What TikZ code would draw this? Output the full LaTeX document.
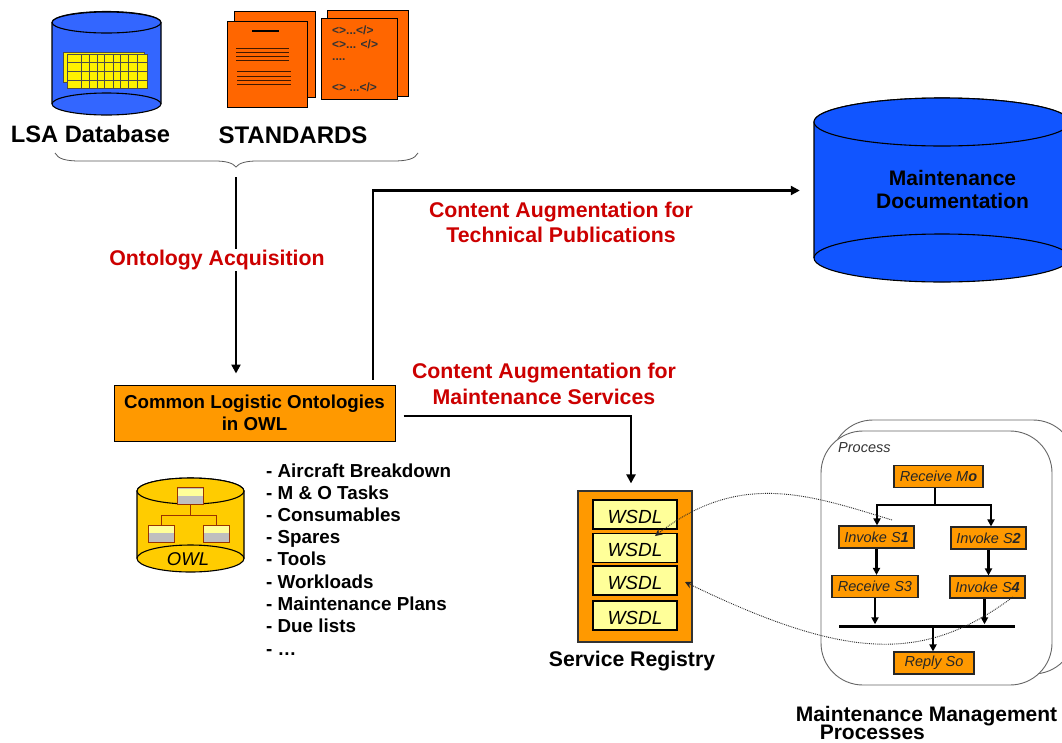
\documentclass[tikz,border=0pt]{standalone}
\usepackage{fontspec}
\setmainfont{Liberation Sans}
\usetikzlibrary{arrows.meta,calc}
\definecolor{dbblue}{HTML}{3366FF}
\definecolor{docblue}{HTML}{1155FF}
\definecolor{docorange}{HTML}{FF6600}
\definecolor{amber}{HTML}{FF9900}
\definecolor{gold}{HTML}{FFCC00}
\definecolor{pale}{HTML}{FFFF99}
\definecolor{lblred}{HTML}{CC0000}
\definecolor{treered}{HTML}{993300}
\newcommand{\fs}[1]{\fontsize{#1}{#1}\selectfont}
\tikzset{
  x=1pt,y=-1pt,
  outline/.style={draw=black,line width=1.1pt},
  arrowline/.style={draw=black,line width=2.3pt,-{Triangle[length=9pt,width=9pt]}},
  flowline/.style={draw=black,line width=2.2pt,-{Triangle[length=7pt,width=7pt]}},
  dotline/.style={draw=black!85,line width=.9pt,densely dotted,-{Stealth[length=7pt,width=7pt]}},
  redlabel/.style={text=lblred,font=\fs{21.3}\bfseries,align=center,inner sep=1pt,fill=white},
  blacklabel/.style={text=black,font=\fs{21}\bfseries,align=center,inner sep=0pt},
  docpage/.style={draw=black,line width=1pt,fill=docorange,minimum width=#1,inner sep=0pt},
  docline/.style={draw=black!75!docorange,line width=.9pt},
  xmltext/.style={font=\fs{12}\bfseries,anchor=west,inner sep=0pt,text=black!80},
  wsdlbox/.style={draw=black,line width=1.1pt,fill=pale,minimum width=84pt,inner sep=0pt,font=\fs{19}\itshape,text height=17pt,text depth=0pt},
  stepbox/.style={draw=black!85,line width=1.1pt,fill=amber,inner sep=0pt,font=\fs{14.5}\itshape,text=black!85},
  procback/.style={draw=black!60,line width=.9pt,fill=white,rounded corners=42pt},
  treebox/.style={draw=treered,line width=1pt,fill=black!25,minimum width=26pt,minimum height=17pt,inner sep=0pt},
  treetop/.style={fill=pale,minimum width=25pt,minimum height=7pt,inner sep=0pt},
  treeline/.style={draw=treered,line width=1pt},
  gridsheet/.style={draw=black!70,line width=.6pt,fill=yellow},
  bulletitem/.style={font=\fs{18.8}\bfseries,anchor=base west,inner sep=0pt},
}
\begin{document}
\begin{tikzpicture}
\clip (0,0) rectangle (1062,742);
\fill[white] (0,0) rectangle (1062,742);

% LSA database cylinder
\path[outline,fill=dbblue] (52,22.5) -- (52,104) arc[start angle=180,end angle=360,x radius=54.5,y radius=-11] -- (161,22.5) arc[start angle=0,end angle=180,x radius=54.5,y radius=-11] -- cycle;
\path[outline,fill=dbblue] (106.5,22.5) ellipse[x radius=54.5,y radius=10.5];
\draw[outline] (52,104) arc[start angle=180,end angle=0,x radius=54.5,y radius=-11];
\draw[gridsheet] (63.5,52) rectangle (144,82);
\draw[gridsheet] (67,54) rectangle (147,88);
\foreach \gx in {81,89,97,104,113,120,128,137} \draw[black!70,line width=.6pt] (\gx,54) -- (\gx,88);
\foreach \gy in {62,71,80} \draw[black!70,line width=.6pt] (67,\gy) -- (147,\gy);
\node[blacklabel,font=\fs{23.7}\bfseries] (lsa) at (90.5,134) {LSA Database};

% Standards
\node[docpage=81pt,minimum height=86pt] (d1b) at (274.5,54) {};
\node[docpage=80pt,minimum height=86pt] (d1f) at (267,64) {};
\draw[black,line width=2.2pt] (252,31) -- (279,31);
\foreach \ly in {48,52,56,60} \draw[docline] (236,\ly) -- (289,\ly);
\foreach \ly in {71,76,80,84} \draw[docline] (237,\ly) -- (291,\ly);
\node[docpage=81pt,minimum height=86pt] (d2b) at (367.5,53) {};
\node[docpage=75.5pt,minimum height=81pt] (d2f) at (359.25,58.5) {};
\node[xmltext] (x1) at (332,30.5) {<>...</>};
\node[xmltext] (x2) at (332,44.5) {<>... </>};
\node[xmltext] (x3) at (332,60) {....};
\node[xmltext] (x4) at (332,87) {<> ...</>};
\node[blacklabel,font=\fs{24}\bfseries] (std) at (293,135) {STANDARDS};

% Brace
\draw[draw=black!65,line width=.8pt] (55,153) .. controls (58,159) and (66,161) .. (80,161) -- (215,161) .. controls (226,161) and (233,163) .. (236,167) .. controls (239,163) and (246,161) .. (257,161) -- (393,161) .. controls (407,161) and (415,159) .. (418,153);
\coordinate (bracetip) at (236,177);

% Common ontologies
\node[draw=black,line width=1pt,fill=amber,minimum width=281pt,minimum height=56pt,inner sep=0pt,align=center,font=\fs{18.7}\bfseries] (col) at (254.5,413) {Common Logistic Ontologies\\[3pt]in OWL};

\draw[arrowline] (bracetip) -- ([yshift=11pt]bracetip |- col.north);
\node[redlabel] (acq) at (217,260) {Ontology Acquisition};

% Maintenance documentation cylinder
\path[outline,fill=docblue] (814,122) -- (814,258) arc[start angle=180,end angle=360,x radius=128,y radius=-24] -- (1070,122) arc[start angle=0,end angle=180,x radius=128,y radius=-24] -- cycle;
\path[outline,fill=docblue] (942,122) ellipse[x radius=128,y radius=24];
\draw[outline] (814,258) arc[start angle=180,end angle=0,x radius=128,y radius=-24];
\node[inner sep=0pt,minimum width=256pt,minimum height=184pt] (maint) at (942,190.5) {};
\node[blacklabel,font=\fs{21}\bfseries] (maintlbl) at (952.5,189) {Maintenance\\[2pt]Documentation};

\coordinate (colup) at ($(col.north)+(118.5,-5)$);
\coordinate (colright) at ($(col.east)+(8,3)$);
\draw[arrowline] (colup) |- ([xshift=-14pt]maint.west);
\node[redlabel,fill=none] (techlbl) at (561,222.5) {Content Augmentation for\\[3.5pt]Technical Publications};
\node[redlabel,fill=none] (svclbl) at (544,384) {Content Augmentation for\\[4pt]Maintenance Services};

% OWL cylinder
\path[outline,fill=gold] (137,491) -- (137,558.5) arc[start angle=180,end angle=360,x radius=53.5,y radius=-13.5] -- (244,491) arc[start angle=0,end angle=180,x radius=53.5,y radius=-13] -- cycle;
\path[outline,fill=gold] (190.5,491) ellipse[x radius=53.5,y radius=13];
\draw[outline] (137,558.5) arc[start angle=180,end angle=0,x radius=53.5,y radius=-13.5];
\node[treebox] (t0) at (190,496) {};
\node[treebox] (t1) at (161,533.5) {};
\node[treebox] (t2) at (216,533.5) {};
\node[treetop] at (190,492) {};
\node[treetop] at (161,529.5) {};
\node[treetop] at (216,529.5) {};
\draw[treeline] (t0.south) -- ++(0,10) coordinate (tj) -| (t1.north);
\draw[treeline] (tj) -| (t2.north);
\node[font=\fs{18.5}\itshape,inner sep=0pt] (owl) at (188,559) {OWL};

% Bullet list
\node[bulletitem] (b1) at (266,477) {- Aircraft Breakdown};
\node[bulletitem] (b2) at (266,499) {- M \& O Tasks};
\node[bulletitem] (b3) at (266,521.5) {- Consumables};
\node[bulletitem] (b4) at (266,543.5) {- Spares};
\node[bulletitem] (b5) at (266,565.5) {- Tools};
\node[bulletitem] (b6) at (266,588) {- Workloads};
\node[bulletitem] (b7) at (266,610) {- Maintenance Plans};
\node[bulletitem] (b8) at (266,632) {- Due lists};
\node[bulletitem] (b9) at (266,655) {- …};

% Service registry
\node[draw=black!80,line width=1.2pt,fill=amber,minimum width=114pt,minimum height=151pt,inner sep=0pt] (reg) at (635,566.5) {};
\node[wsdlbox,minimum height=29pt] (w1) at (635,514.5) {WSDL};
\node[wsdlbox,minimum height=29pt] (w2) at (635,548) {WSDL};
\node[wsdlbox,minimum height=29pt] (w3) at (635,580.5) {WSDL};
\node[wsdlbox,minimum height=29pt] (w4) at (635,615.5) {WSDL};
\node[blacklabel,font=\fs{21.2}\bfseries] (reglbl) at (632,661.5) {Service Registry};
\draw[arrowline] (colright) -| ([xshift=-4pt,yshift=7pt]reg.north);

% Process containers
\path[procback] (831,420) rectangle (1075,674);
\path[procback] (821,431) rectangle (1052,685);
\node[font=\fs{14.5}\itshape,text=black!80,inner sep=0pt,anchor=west] (proc) at (838,447.5) {Process};

\node[stepbox,minimum width=89pt,minimum height=22pt] (rmo) at (938.5,476.5) {Receive M\textbf{o}};
\node[stepbox,minimum width=75pt,minimum height=22pt] (s1) at (876.5,537) {Invoke S\textbf{1}};
\node[stepbox,minimum width=75pt,minimum height=22pt] (s2) at (988.5,538) {Invoke S\textbf{2}};
\node[stepbox,minimum width=86pt,minimum height=22pt] (s3) at (875,586.5) {Receive S3};
\node[stepbox,minimum width=75pt,minimum height=22pt] (s4) at (987.5,587) {Invoke S\textbf{4}};
\node[stepbox,minimum width=80pt,minimum height=22pt] (rep) at (934,663) {Reply So};
\node[fill=black,minimum width=176pt,minimum height=3pt,inner sep=0pt] (bar) at (927,626) {};

\coordinate (fork) at (935,505);
\draw[line width=2.2pt] (fork) -- (fork |- rmo.south);
\draw[flowline] (fork) -| ([xshift=.5pt]s1.north);
\draw[flowline] (fork) -| ([xshift=2.5pt]s2.north);
\draw[flowline] (s1.south) -- (s3.north -| s1.south);
\draw[flowline] (s2.south) -- (s4.north -| s2.south);
\draw[flowline] (s3.south) -- (s3.south |- bar.north);
\draw[flowline] ([xshift=-3pt]s4.south) -- ([xshift=-3pt]s4.south |- bar.north);
\draw[flowline] ([xshift=-1pt]rep.north |- bar.south) -- ([xshift=-1pt]rep.north);

% Dotted correspondences
\coordinate (s1dot) at (892,520);
\coordinate (s4dot) at (1013,597);
\coordinate (w2dot) at (655,536);
\coordinate (regdot) at (685,582);
\draw[dotline] (s1dot) .. controls (810,495) and (740,470) .. (w2dot);
\draw[dotline] (s4dot) .. controls (925,662) and (850,662) .. (regdot);

\node[blacklabel,font=\fs{21}\bfseries,align=left] (mmp) at (926.5,723) {Maintenance Management\\[-3pt]\hspace*{24pt}Processes};
\end{tikzpicture}
\end{document}
